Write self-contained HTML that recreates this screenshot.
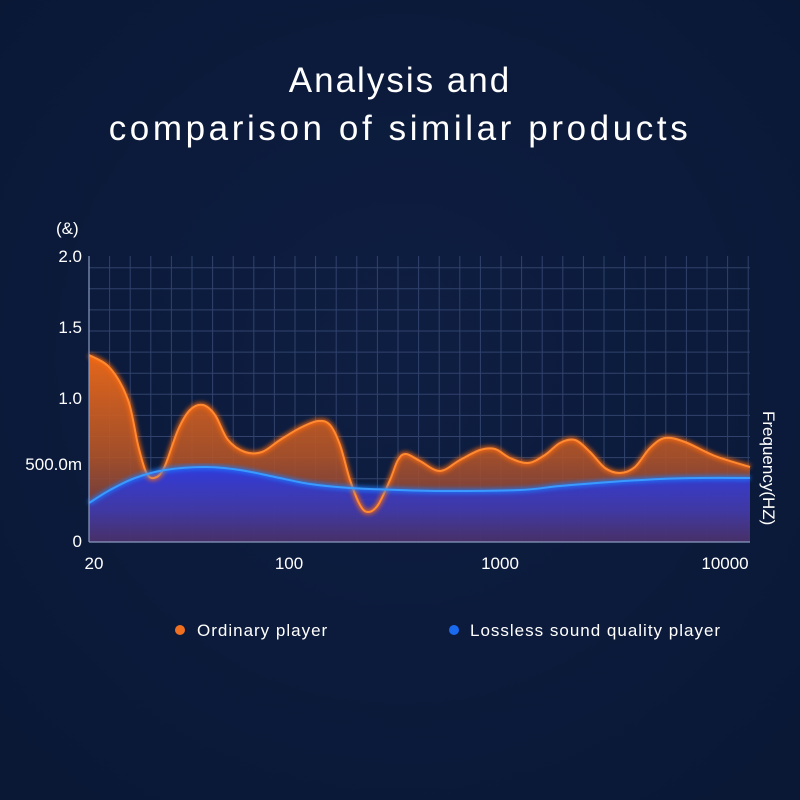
<!DOCTYPE html>
<html><head><meta charset="utf-8"><style>
body{margin:0;width:800px;height:800px;background:#0b1a3b;overflow:hidden;font-family:"Liberation Sans",sans-serif;}
svg{display:block}
</style></head><body>
<svg id="s" width="800" height="800" viewBox="0 0 800 800">
<defs>
<radialGradient id="bg" cx="50%" cy="45%" r="70%"><stop offset="0" stop-color="#0e1e42"/><stop offset="1" stop-color="#0a1836"/></radialGradient>
<linearGradient id="og" gradientUnits="userSpaceOnUse" x1="0" y1="350" x2="0" y2="542"><stop offset="0" stop-color="#e8681a" stop-opacity="1"/><stop offset="0.55" stop-color="#b25428" stop-opacity="0.9"/><stop offset="1" stop-color="#5a3450" stop-opacity="0.85"/></linearGradient>
<linearGradient id="bgr" gradientUnits="userSpaceOnUse" x1="0" y1="465" x2="0" y2="542"><stop offset="0" stop-color="#2a3ae8" stop-opacity="1"/><stop offset="0.6" stop-color="#3a38b0" stop-opacity="0.92"/><stop offset="1" stop-color="#45306e" stop-opacity="0.85"/></linearGradient>
<filter id="gl"><feGaussianBlur stdDeviation="2"/></filter>
</defs>
<rect width="800" height="800" fill="url(#bg)"/>
<text x="400" y="92" fill="#fff" font-size="35" text-anchor="middle" letter-spacing="2">Analysis and</text>
<text x="400" y="140" fill="#fff" font-size="35" text-anchor="middle" letter-spacing="3.6">comparison of similar products</text>
<g id="grid" stroke="#3a4c78" stroke-width="1" opacity="0.8"></g>
<g id="plot"></g>
<line x1="89" y1="256" x2="89" y2="542" stroke="#8a9ac0" stroke-width="1.2"/>
<line x1="89" y1="542" x2="750" y2="542" stroke="#8a9ac0" stroke-width="1.2"/>
<g fill="#fff" font-size="17">
<text x="56" y="234">(&amp;)</text>
<text x="82" y="262" text-anchor="end">2.0</text>
<text x="82" y="333" text-anchor="end">1.5</text>
<text x="82" y="404" text-anchor="end">1.0</text>
<text x="82" y="470" text-anchor="end">500.0m</text>
<text x="82" y="547" text-anchor="end">0</text>
<text x="94" y="569" text-anchor="middle">20</text>
<text x="289" y="569" text-anchor="middle">100</text>
<text x="500" y="569" text-anchor="middle">1000</text>
<text x="725" y="569" text-anchor="middle">10000</text>
<text transform="translate(763,411) rotate(90)" font-size="17">Frequency(HZ)</text>
<circle cx="180" cy="630" r="5" fill="#f07020"/>
<text x="197" y="636" letter-spacing="1">Ordinary player</text>
<circle cx="454" cy="630" r="5" fill="#1a6af0"/>
<text x="470" y="636" letter-spacing="1">Lossless sound quality player</text>
</g>
</svg>
<script>
var ns="http://www.w3.org/2000/svg",g=document.getElementById('grid'),p=document.getElementById('plot');
for(var x=89;x<=751;x+=20.6){var l=document.createElementNS(ns,'line');l.setAttribute('x1',x);l.setAttribute('x2',x);l.setAttribute('y1',256);l.setAttribute('y2',542);g.appendChild(l);}
for(var y=542;y>=255;y-=21.1){var l=document.createElementNS(ns,'line');l.setAttribute('x1',89);l.setAttribute('x2',750);l.setAttribute('y1',y);l.setAttribute('y2',y);g.appendChild(l);}
function cr(pts){var d='M'+pts[0][0]+','+pts[0][1];for(var i=0;i<pts.length-1;i++){var p0=pts[i-1]||pts[i],p1=pts[i],p2=pts[i+1],p3=pts[i+2]||p2;
d+=' C'+(p1[0]+(p2[0]-p0[0])/6)+','+(p1[1]+(p2[1]-p0[1])/6)+' '+(p2[0]-(p3[0]-p1[0])/6)+','+(p2[1]-(p3[1]-p1[1])/6)+' '+p2[0]+','+p2[1];}return d;}
var O=[[89,355],[110,368],[128,400],[138,445],[146,472],[154,478],[164,468],[178,430],[190,410],[203,405],[215,415],[228,440],[245,452],[262,452],[280,440],[300,428],[318,421],[330,425],[340,445],[350,480],[360,505],[368,512],[378,505],[390,480],[398,460],[406,454],[420,461],[440,471],[460,460],[480,450],[495,449],[510,458],[528,463],[545,455],[560,443],[575,440],[590,452],[605,468],[620,473],[635,467],[650,448],[665,438],[685,442],[715,456],[750,467]];
var B=[[89,503],[110,490],[135,478],[165,470],[205,467],[240,470],[275,477],[310,484],[350,488],[400,490],[450,491],[520,490],[560,486],[610,482],[660,479],[700,478],[750,478]];
function add(d,a){var e=document.createElementNS(ns,'path');e.setAttribute('d',d);for(var k in a)e.setAttribute(k,a[k]);p.appendChild(e);}
var od=cr(O),bd=cr(B);
add(od+' L750,542 L89,542 Z',{fill:'url(#og)'});
add(bd+' L750,542 L89,542 Z',{fill:'url(#bgr)',opacity:'0.95'});
add(od,{fill:'none',stroke:'#ff6a10',"stroke-width":'5',filter:'url(#gl)',opacity:'0.8'});
add(od,{fill:'none',stroke:'#ff8a30',"stroke-width":'2'});
add(bd,{fill:'none',stroke:'#1a7cff',"stroke-width":'5',filter:'url(#gl)',opacity:'0.8'});
add(bd,{fill:'none',stroke:'#3a9aff',"stroke-width":'2'});
</script>
</body></html>
